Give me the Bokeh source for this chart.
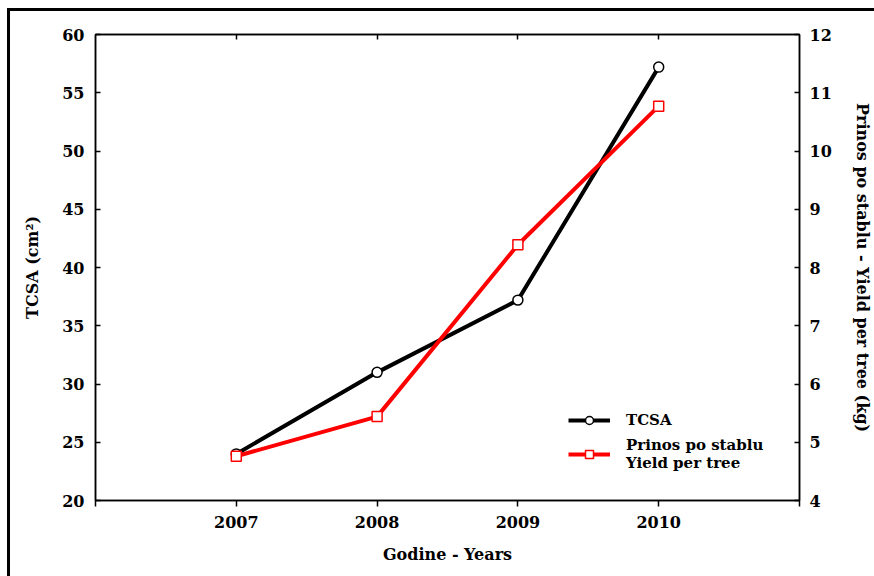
from bokeh.plotting import figure
from bokeh.models import (LinearAxis, Range1d, FixedTicker, Legend, LegendItem,
                          ColumnDataSource)
from bokeh.embed import file_html
from bokeh.resources import INLINE

# Data
years = [2007, 2008, 2009, 2010]
tcsa = [24.0, 31.0, 37.2, 57.2]            # cm^2, left axis
yield_per_tree = [4.76, 5.44, 8.39, 10.77]  # kg, right axis

left_ticks = [20, 25, 30, 35, 40, 45, 50, 55, 60]
right_ticks = [4, 5, 6, 7, 8, 9, 10, 11, 12]
edge_years = [2006, 2011]

FONT = "DejaVu Serif"

p = figure(width=864, height=565, output_backend="svg", toolbar_location=None,
           x_range=Range1d(2006, 2011), y_range=Range1d(20, 60),
           x_axis_location=None, y_axis_location=None,
           min_border_left=85, min_border_right=74,
           min_border_top=23, min_border_bottom=76)
p.grid.visible = False
p.outline_line_color = "black"
p.outline_line_width = 1.5
p.background_fill_color = "white"
p.border_fill_color = "white"
p.extra_y_ranges = {"yield": Range1d(4, 12)}
# thin black frame around the whole figure
p.styles = {"margin-left": "10px", "margin-top": "11px",
            "outline": "3px solid black"}


def style_axis(ax, tin=0, tout=0):
    ax.axis_line_color = "black"
    ax.axis_line_width = 1.5
    ax.major_tick_line_color = "black"
    ax.major_tick_line_width = 1.5
    ax.major_tick_in = tin
    ax.major_tick_out = tout
    ax.minor_tick_line_color = "black"
    ax.minor_tick_line_width = 1.5
    ax.minor_tick_in = tin
    ax.minor_tick_out = tout
    ax.major_label_text_font = FONT
    ax.major_label_text_font_style = "bold"
    ax.major_label_text_font_size = "16px"
    ax.major_label_text_color = "black"
    ax.axis_label_text_font = FONT
    ax.axis_label_text_font_style = "bold"
    ax.axis_label_text_font_size = "16px"
    ax.axis_label_text_color = "black"


# Bottom axis: labelled years, plus plain ticks at the range ends
xb = LinearAxis(ticker=FixedTicker(ticks=years, minor_ticks=edge_years),
                axis_label="Godine - Years")
style_axis(xb, tin=0, tout=6)
xb.major_label_standoff = 9
xb.axis_label_standoff = 14
p.add_layout(xb, "below")

# Top axis: inward ticks only, no labels
xt = LinearAxis(ticker=FixedTicker(ticks=[], minor_ticks=years))
style_axis(xt, tin=5, tout=0)
xt.major_label_standoff = 0
p.add_layout(xt, "above")

# Left axis
yl = LinearAxis(ticker=FixedTicker(ticks=left_ticks), axis_label="TCSA (cm²)")
style_axis(yl, tin=5, tout=0)
yl.major_label_standoff = 11
yl.axis_label_standoff = 17
p.add_layout(yl, "left")

# Right axis
yr = LinearAxis(y_range_name="yield", ticker=FixedTicker(ticks=right_ticks),
                axis_label="Prinos po stablu - Yield per tree (kg)")
style_axis(yr, tin=5, tout=0)
yr.major_label_standoff = 10
yr.axis_label_standoff = 18
p.add_layout(yr, "right")

src_t = ColumnDataSource(dict(x=years, y=tcsa))
src_y = ColumnDataSource(dict(x=years, y=yield_per_tree))

l1 = p.line("x", "y", source=src_t, line_color="black", line_width=4)
m1 = p.scatter("x", "y", source=src_t, marker="circle", size=10,
               fill_color="white", line_color="black", line_width=1.5)
l2 = p.line("x", "y", source=src_y, y_range_name="yield",
            line_color="red", line_width=4)
m2 = p.scatter("x", "y", source=src_y, y_range_name="yield", marker="square",
               size=10, fill_color="white", line_color="red", line_width=1.5)

legend = Legend(items=[LegendItem(label="TCSA", renderers=[l1, m1]),
                       LegendItem(label="Prinos po stablu\nYield per tree",
                                  renderers=[l2, m2])],
                location=(473, 28))
legend.label_text_font = FONT
legend.label_text_font_style = "bold"
legend.label_text_font_size = "15px"
legend.label_text_color = "black"
legend.label_text_line_height = 1.45
legend.glyph_width = 42
legend.glyph_height = 20
legend.label_standoff = 16
legend.spacing = 6
legend.padding = 0
legend.margin = 0
legend.border_line_color = None
legend.background_fill_alpha = 0
p.add_layout(legend, "center")

open("out.html", "w").write(file_html(p, INLINE))
